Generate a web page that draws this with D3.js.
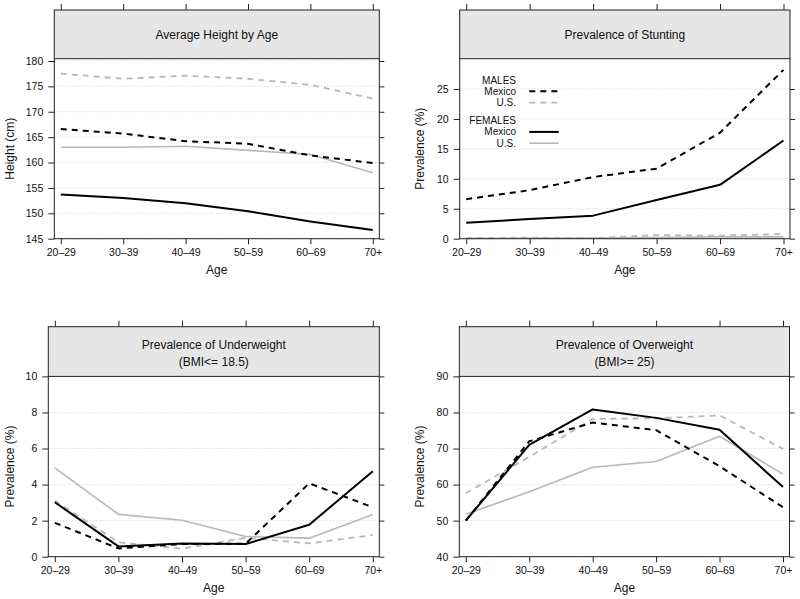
<!DOCTYPE html>
<html>
<head>
<meta charset="utf-8">
<script src="https://cdn.jsdelivr.net/npm/d3@7"></script>
<style>
  html, body { margin: 0; padding: 0; background: #fff; }
  svg { display: block; font-family: "Liberation Sans", Arial, Helvetica, sans-serif; }
</style>
</head>
<body>
<svg id="chart" width="800" height="599"></svg>
<script>
// ---- Data ----
const ageGroups = ["20–29", "30–39", "40–49", "50–59", "60–69", "70+"];

// Average height (cm)
const heightMalesMexico   = [166.6, 165.7, 164.2, 163.7, 161.4, 159.9];
const heightMalesUS       = [177.5, 176.5, 177.1, 176.5, 175.3, 172.6];
const heightFemalesMexico = [153.7, 153.0, 152.0, 150.4, 148.4, 146.7];
const heightFemalesUS     = [163.0, 163.0, 163.2, 162.4, 161.6, 158.0];

// Prevalence of stunting (%)
const stuntMalesMexico   = [6.6, 8.1, 10.3, 11.7, 17.7, 28.2];
const stuntMalesUS       = [0.1, 0.2, 0.1, 0.6, 0.5, 0.8];
const stuntFemalesMexico = [2.65, 3.3, 3.85, 6.45, 9.0, 16.4];
const stuntFemalesUS     = [0.05, 0.1, 0.1, 0.2, 0.3, 0.3];

// Prevalence of underweight (%)
const underMalesMexico   = [1.88, 0.46, 0.7, 0.72, 4.07, 2.74];
const underMalesUS       = [3.11, 0.8, 0.44, 1.05, 0.74, 1.2];
const underFemalesMexico = [3.02, 0.57, 0.73, 0.7, 1.77, 4.74];
const underFemalesUS     = [4.93, 2.35, 2.02, 1.12, 1.03, 2.34];

// Prevalence of overweight (%)
const overMalesMexico   = [50.0, 72.0, 77.2, 75.1, 65.1, 53.7];
const overMalesUS       = [57.6, 67.7, 78.2, 78.4, 79.2, 69.9];
const overFemalesMexico = [50.0, 71.0, 80.85, 78.5, 75.2, 59.3];
const overFemalesUS     = [51.8, 58.0, 64.8, 66.4, 73.4, 62.9];

// Tick values
const heightTicks = [145, 150, 155, 160, 165, 170, 175, 180];
const stuntTicks  = [0, 5, 10, 15, 20, 25];
const underTicks  = [0, 2, 4, 6, 8, 10];
const overTicks   = [40, 50, 60, 70, 80, 90];

// Series styles
const seriesStyles = [
  { key: "mu", label: "U.S.",   color: "#b8b8b8", dash: "6,5", width: 1.8 },
  { key: "fu", label: "U.S.",   color: "#b8b8b8", dash: null,  width: 1.6 },
  { key: "mm", label: "Mexico", color: "#000000", dash: "6,5", width: 2 },
  { key: "fm", label: "Mexico", color: "#000000", dash: null,  width: 2 }
];

const panels = [
  { title: ["Average Height by Age"], left: 54.3, right: 379.3, stripTop: 10, plotTop: 58.7, bottom: 238.7,
    domain: [145, 180.45], ticks: heightTicks, ylab: "Height (cm)", ylabX: 10,
    data: { mm: heightMalesMexico, mu: heightMalesUS, fm: heightFemalesMexico, fu: heightFemalesUS } },
  { title: ["Prevalence of Stunting"], left: 459.7, right: 790, stripTop: 10, plotTop: 58.7, bottom: 238.7,
    domain: [0, 30.06], ticks: stuntTicks, ylab: "Prevalence (%)", ylabX: 420, legend: true,
    data: { mm: stuntMalesMexico, mu: stuntMalesUS, fm: stuntFemalesMexico, fu: stuntFemalesUS } },
  { title: ["Prevalence of Underweight", "(BMI<= 18.5)"], left: 48.3, right: 379.3, stripTop: 326.7, plotTop: 376.4, bottom: 556.7,
    domain: [0, 10], ticks: underTicks, ylab: "Prevalence (%)", ylabX: 10,
    data: { mm: underMalesMexico, mu: underMalesUS, fm: underFemalesMexico, fu: underFemalesUS } },
  { title: ["Prevalence of Overweight", "(BMI>= 25)"], left: 459.3, right: 789.5, stripTop: 326.7, plotTop: 376.4, bottom: 556.7,
    domain: [40, 90], ticks: overTicks, ylab: "Prevalence (%)", ylabX: 420,
    data: { mm: overMalesMexico, mu: overMalesUS, fm: overFemalesMexico, fu: overFemalesUS } }
];

const svg = d3.select("#chart");
const pad = 6.5;

panels.forEach(p => {
  const g = svg.append("g");
  const x = d3.scalePoint().domain(ageGroups).range([p.left + pad, p.right - pad]);
  const y = d3.scaleLinear().domain(p.domain).range([p.bottom, p.plotTop]);

  // strip
  g.append("rect").attr("x", p.left).attr("y", p.stripTop)
    .attr("width", p.right - p.left).attr("height", p.plotTop - p.stripTop)
    .attr("fill", "#e6e6e6").attr("stroke", "none");

  // grid lines
  g.selectAll(".grid").data(p.ticks).enter().append("line")
    .attr("x1", p.left).attr("x2", p.right)
    .attr("y1", d => y(d)).attr("y2", d => y(d))
    .attr("stroke", "#cfcfcf").attr("stroke-width", 1).attr("stroke-dasharray", "1,2");

  // axes
  const bottomAxis = d3.axisBottom(x).tickSize(5.6).tickPadding(4);
  const ba = g.append("g").attr("transform", `translate(0,${p.bottom})`).call(bottomAxis);
  const topAxis = d3.axisTop(x).tickSize(6).tickFormat("");
  const ta = g.append("g").attr("transform", `translate(0,${p.stripTop})`).call(topAxis);
  const leftAxis = d3.axisLeft(y).tickValues(p.ticks).tickSize(6).tickPadding(5);
  const la = g.append("g").attr("transform", `translate(${p.left},0)`).call(leftAxis);
  const rightAxis = d3.axisRight(y).tickValues(p.ticks).tickSize(5).tickFormat("");
  const ra = g.append("g").attr("transform", `translate(${p.right},0)`).call(rightAxis);
  [ba, ta, la, ra].forEach(a => {
    a.select(".domain").remove();
    a.selectAll(".tick line").attr("stroke", "#222");
    a.selectAll(".tick text").attr("fill", "#111").style("font-size", "10.5px")
      .style("font-family", "'Liberation Sans', Arial, sans-serif");
  });
  ba.selectAll(".tick text").attr("dy", "0.71em");

  // series lines
  const line = d3.line().x((d, i) => x(ageGroups[i])).y(d => y(d));
  seriesStyles.forEach(s => {
    g.append("path").datum(p.data[s.key])
      .attr("d", line)
      .attr("fill", "none")
      .attr("stroke", s.color)
      .attr("stroke-width", s.width)
      .attr("stroke-dasharray", s.dash)
      .attr("stroke-linejoin", "round");
  });

  // borders
  g.append("rect").attr("x", p.left).attr("y", p.stripTop)
    .attr("width", p.right - p.left).attr("height", p.bottom - p.stripTop)
    .attr("fill", "none").attr("stroke", "#222").attr("stroke-width", 1);
  g.append("line").attr("x1", p.left).attr("x2", p.right)
    .attr("y1", p.plotTop).attr("y2", p.plotTop)
    .attr("stroke", "#222").attr("stroke-width", 1);

  // strip title
  const cx = (p.left + p.right) / 2;
  const cy = (p.stripTop + p.plotTop) / 2;
  const lh = 16.7;
  p.title.forEach((t, i) => {
    g.append("text").attr("x", cx)
      .attr("y", cy + (i - (p.title.length - 1) / 2) * lh + (p.title.length > 1 ? 1.8 : 0))
      .attr("dy", "0.35em").attr("text-anchor", "middle")
      .style("font-size", "12px").attr("fill", "#111").text(t);
  });

  // axis titles
  g.append("text").attr("x", (p.left + p.right) / 2).attr("y", p.bottom + 31.3)
    .attr("dy", "0.35em").attr("text-anchor", "middle")
    .style("font-size", "12px").attr("fill", "#111").text("Age");
  g.append("text")
    .attr("transform", `translate(${p.ylabX},${(p.plotTop + p.bottom) / 2}) rotate(-90)`)
    .attr("dy", "0.35em").attr("text-anchor", "middle")
    .style("font-size", "12px").attr("fill", "#111").text(p.ylab);

  // legend
  if (p.legend) {
    const lg = g.append("g");
    const tx = 516, l1 = 529.3, l2 = 558.7;
    const rows = [
      { text: "MALES", y: 80 },
      { text: "Mexico", y: 91.3, s: seriesStyles[2] },
      { text: "U.S.", y: 102.6, s: seriesStyles[0] },
      { text: "FEMALES", y: 120.6 },
      { text: "Mexico", y: 131.9, s: seriesStyles[3] },
      { text: "U.S.", y: 143.2, s: seriesStyles[1] }
    ];
    rows.forEach(r => {
      lg.append("text").attr("x", tx).attr("y", r.y).attr("dy", "0.35em")
        .attr("text-anchor", "end").style("font-size", "10px").attr("fill", "#111").text(r.text);
      if (r.s) {
        lg.append("line").attr("x1", l1).attr("x2", l2).attr("y1", r.y).attr("y2", r.y)
          .attr("stroke", r.s.color).attr("stroke-width", r.s.width)
          .attr("stroke-dasharray", r.s.dash);
      }
    });
  }
});
</script>
</body>
</html>
